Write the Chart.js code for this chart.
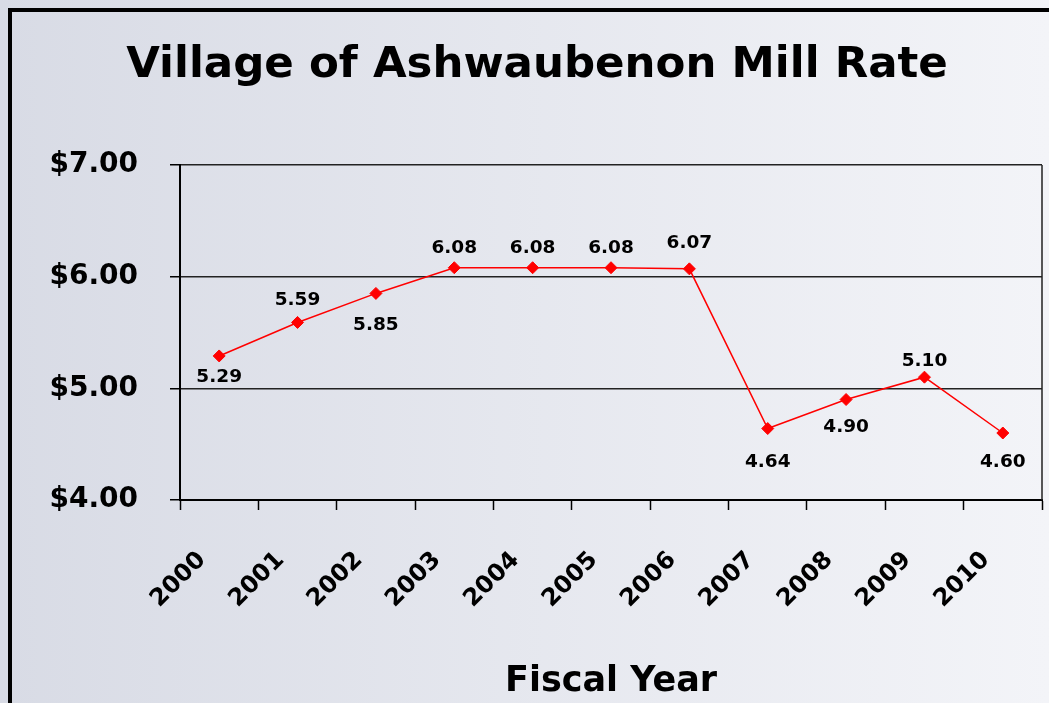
<!DOCTYPE html>
<html lang="en">
<head>
    <meta charset="UTF-8">
    <title>Village of Ashwaubenon Mill Rate</title>
    <style>
        html, body { margin: 0; padding: 0; width: 1049px; height: 703px; overflow: hidden; }
        body { background: linear-gradient(to right, #d8dbe5, #f3f4f8); position: relative; }
        .frame {
            position: absolute; left: 8px; top: 8px; width: 1100px; height: 760px;
            border-left: 4px solid #000; border-top: 4px solid #000;
        }
        #millChart { position: absolute; left: 0; top: 0; }
    </style>
</head>
<body>

<div class="frame"></div>
<canvas id="millChart" width="1049" height="703"></canvas>

<script src="https://cdn.jsdelivr.net/npm/chart.js@4/dist/chart.umd.min.js"></script>
<script>
    // data
    var years = ['2000', '2001', '2002', '2003', '2004', '2005', '2006', '2007', '2008', '2009', '2010'];
    var millRate = [5.29, 5.59, 5.85, 6.08, 6.08, 6.08, 6.07, 4.64, 4.90, 5.10, 4.60];
    var yTicks = [4, 5, 6, 7];

    // where each value label sits relative to its point (px, + is below)
    var labelShift = [21, -22, 32, -20, -20, -20, -26, 34, 28, -16, 29];

    var FONT = "'DejaVu Sans', Verdana, sans-serif";

    // value labels next to each point
    var valueLabels = {
        id: 'valueLabels',
        afterDatasetsDraw: function (chart) {
            var ctx = chart.ctx;
            var meta = chart.getDatasetMeta(0);
            ctx.save();
            ctx.font = 'bold 18.5px ' + FONT;
            ctx.fillStyle = '#000';
            ctx.textAlign = 'center';
            ctx.textBaseline = 'middle';
            meta.data.forEach(function (pt, i) {
                ctx.fillText(millRate[i].toFixed(2), pt.x, pt.y + labelShift[i]);
            });
            ctx.restore();
        }
    };

    // thin line on the right edge of the plot area
    var plotEdge = {
        id: 'plotEdge',
        beforeDatasetsDraw: function (chart) {
            var a = chart.chartArea;
            var ctx = chart.ctx;
            ctx.save();
            ctx.strokeStyle = '#222';
            ctx.lineWidth = 1.5;
            ctx.beginPath();
            ctx.moveTo(a.right, a.top);
            ctx.lineTo(a.right, a.bottom);
            ctx.stroke();
            ctx.restore();
        }
    };

    var ctx = document.getElementById('millChart').getContext('2d');
    var chart = new Chart(ctx, {
        type: 'line',
        data: {
            labels: years,
            datasets: [{
                data: millRate,
                borderColor: '#ff0000',
                backgroundColor: '#ff0000',
                borderWidth: 1.5,
                pointStyle: 'rectRot',
                pointRadius: 6,
                pointBorderWidth: 1,
                tension: 0
            }]
        },
        options: {
            responsive: false,
            animation: false,
            layout: { padding: { left: 30, right: 5, top: 0, bottom: 0 } },
            plugins: {
                legend: { display: false },
                tooltip: { enabled: false },
                title: {
                    display: true,
                    text: 'Village of Ashwaubenon Mill Rate',
                    color: '#000',
                    font: { family: FONT, size: 43.5, weight: 'bold', lineHeight: 1.2 },
                    padding: { top: 40, bottom: 72.8 }
                }
            },
            scales: {
                x: {
                    offset: true,
                    afterFit: function (scale) {
                        scale.height = 203;
                        // rotated labels don't stick out sideways here
                        scale.paddingLeft = 0;
                        scale.paddingRight = 0;
                    },
                    grid: { display: true, drawOnChartArea: false, offset: true, tickLength: 10, tickColor: '#000', tickWidth: 1.5 },
                    border: { color: '#000', width: 2 },
                    ticks: {
                        color: '#000',
                        font: { family: FONT, size: 24, weight: 'bold' },
                        minRotation: 45,
                        maxRotation: 45,
                        labelOffset: -17,
                        padding: 36
                    },
                    title: {
                        display: true,
                        text: 'Fiscal Year',
                        color: '#000',
                        font: { family: FONT, size: 35, weight: 'bold', lineHeight: 1.2 },
                        padding: { top: 28, bottom: 0 }
                    }
                },
                y: {
                    min: yTicks[0],
                    max: yTicks[yTicks.length - 1],
                    afterFit: function (scale) { scale.width = 150; },
                    afterBuildTicks: function (scale) {
                        scale.ticks = yTicks.map(function (v) { return { value: v }; });
                    },
                    grid: { color: '#222', lineWidth: 1.5, tickLength: 10, tickColor: '#000' },
                    border: { color: '#000', width: 2 },
                    ticks: {
                        color: '#000',
                        font: { family: FONT, size: 28, weight: 'bold' },
                        padding: 32,
                        callback: function (v) { return '$' + Number(v).toFixed(2); }
                    }
                }
            }
        },
        plugins: [valueLabels, plotEdge]
    });
</script>

</body>
</html>
